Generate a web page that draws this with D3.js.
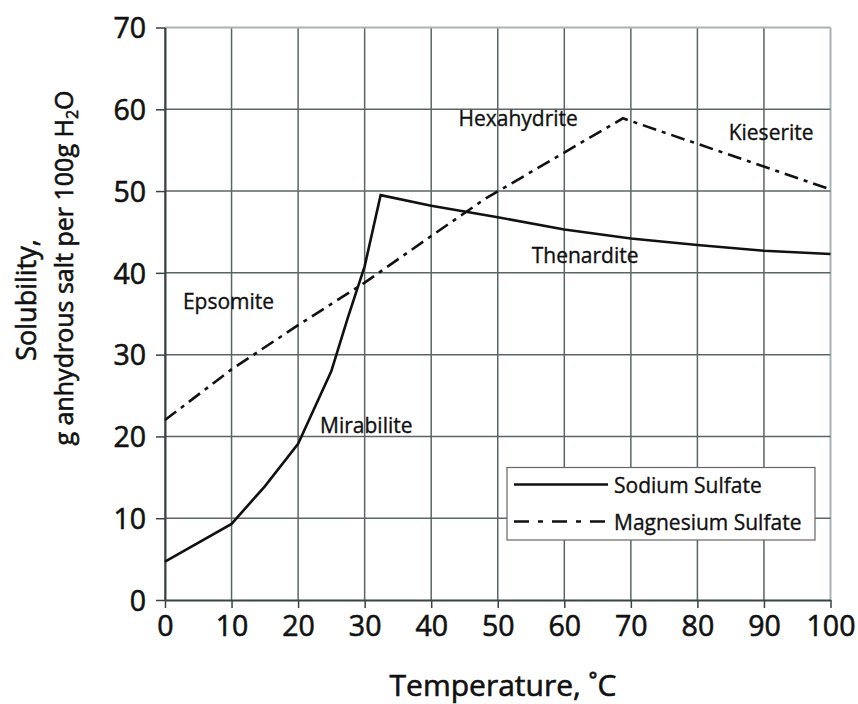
<!DOCTYPE html>
<head>
	<meta charset="utf-8">
	<script src="https://d3js.org/d3.v7.min.js"></script>
	<style>
		body { margin: 0; background: #fff; }
		text { font-family: "Open Sans", sans-serif; fill: #111; }
		.heavy { stroke: #111; stroke-width: 0.6px; }
		.med { stroke: #111; stroke-width: 0.35px; }
	</style>
</head>
<body>
	<svg id="chart" width="858" height="704"></svg>
	<script>

	// Data
	var tempNa = [0, 10, 15, 20, 25, 27.5, 30, 32.4, 40, 50, 60, 70, 80, 90, 100];
	var solNa  = [4.7, 9.3, 13.9, 19.1, 28, 34.6, 40.8, 49.5, 48.2, 46.8, 45.3, 44.2, 43.4, 42.7, 42.3];
	var tempMg = [0, 10, 20, 30, 40, 48, 68.8, 100];
	var solMg  = [22, 28.2, 33.6, 38.8, 44.5, 49, 58.9, 50.2];

	var xTicks = [0, 10, 20, 30, 40, 50, 60, 70, 80, 90, 100];
	var yTicks = [0, 10, 20, 30, 40, 50, 60, 70];

	var phases = [
		{name: "Epsomite",    t: 2.7,  s: 35.6},
		{name: "Mirabilite",  t: 23.3, s: 20.4},
		{name: "Hexahydrite", t: 44.1, s: 57.9},
		{name: "Kieserite",   t: 84.7, s: 56.3},
		{name: "Thenardite",  t: 55.1, s: 41.2}
	];

	var svg = d3.select("#chart");

	var x = d3.scaleLinear().domain([0, 100]).range([165, 830.5]);
	var y = d3.scaleLinear().domain([0, 70]).range([600, 27.5]);

	// grid
	var grid = svg.append("g");
	grid.selectAll(".vg").data(xTicks).enter().append("line")
		.attr("x1", d => x(d)).attr("x2", d => x(d))
		.attr("y1", y(70)).attr("y2", y(0))
		.attr("stroke", d => d == 100 ? "#a7b3b3" : "#5c6565")
		.attr("stroke-width", d => d == 100 ? 2 : 1.5);
	grid.selectAll(".hg").data(yTicks.filter(d => d > 0)).enter().append("line")
		.attr("x1", x(0)).attr("x2", x(100))
		.attr("y1", d => y(d)).attr("y2", d => y(d))
		.attr("stroke", d => d == 70 ? "#a7b3b3" : "#5c6565")
		.attr("stroke-width", d => d == 70 ? 2 : 1.5);

	// axes
	var xAxis = svg.append("g")
		.attr("transform", "translate(0," + y(0) + ")")
		.call(d3.axisBottom(x).tickValues(xTicks).tickSize(8).tickSizeOuter(0).tickPadding(8));
	var yAxis = svg.append("g")
		.attr("transform", "translate(" + x(0) + ",0)")
		.call(d3.axisLeft(y).tickValues(yTicks).tickSize(9).tickSizeOuter(0).tickPadding(10));

	[xAxis, yAxis].forEach(function(a) {
		a.select(".domain").attr("stroke", "#3a4242").attr("stroke-width", 2);
		a.selectAll(".tick line").attr("stroke", "#3a4242").attr("stroke-width", 1.5);
		a.selectAll(".tick text")
			.attr("class", "heavy")
			.style("font-family", "'Open Sans', sans-serif")
			.style("font-size", "28.5px")
			.attr("fill", "#111");
	});
	yAxis.selectAll(".tick text").attr("dy", "0.36em");

	// series
	var line = d3.line().x(d => x(d[0])).y(d => y(d[1]));

	svg.append("path")
		.datum(tempNa.map((t, i) => [t, solNa[i]]))
		.attr("d", line)
		.attr("fill", "none")
		.attr("stroke", "#111")
		.attr("stroke-width", 2.6);

	svg.append("path")
		.datum(tempMg.map((t, i) => [t, solMg[i]]))
		.attr("d", line)
		.attr("fill", "none")
		.attr("stroke", "#111")
		.attr("stroke-width", 2.6)
		.attr("stroke-dasharray", "14,6,4,6");

	// phase labels
	svg.selectAll(".phase").data(phases).enter().append("text")
		.attr("class", "med")
		.attr("x", d => x(d.t))
		.attr("y", d => y(d.s))
		.style("font-size", "21px")
		.text(d => d.name);

	// legend
	var lg = svg.append("g");
	lg.append("rect")
		.attr("x", 507).attr("y", 467.5).attr("width", 308).attr("height", 72.5)
		.attr("fill", "#fff").attr("stroke", "#666").attr("stroke-width", 1.2);
	var items = [
		{name: "Sodium Sulfate", dash: null},
		{name: "Magnesium Sulfate", dash: "15,9,5,9"}
	];
	items.forEach(function(it, i) {
		var yy = 484.5 + i * 37;
		lg.append("line")
			.attr("x1", 514).attr("x2", 608)
			.attr("y1", yy).attr("y2", yy)
			.attr("stroke", "#111").attr("stroke-width", 2.6)
			.attr("stroke-dasharray", it.dash);
		lg.append("text")
			.attr("class", "med")
			.attr("x", 614).attr("y", yy + 8)
			.style("font-size", "21px")
			.text(it.name);
	});

	// axis titles
	svg.append("text")
		.attr("class", "heavy")
		.attr("x", 503).attr("y", 696)
		.attr("text-anchor", "middle")
		.style("font-size", "30px")
		.text("Temperature, ˚C");

	svg.append("text")
		.attr("class", "heavy")
		.attr("transform", "translate(36,300) rotate(-90)")
		.attr("text-anchor", "middle")
		.style("font-size", "27px")
		.text("Solubility,");

	var yt2 = svg.append("text")
		.attr("class", "heavy")
		.attr("transform", "translate(73,268) rotate(-90)")
		.attr("text-anchor", "middle")
		.style("font-size", "25px");
	yt2.append("tspan").text("g anhydrous salt per 100g H");
	yt2.append("tspan").attr("dy", 5).style("font-size", "16px").text("2");
	yt2.append("tspan").attr("dy", -5).text("O");

</script>
</body>
</html>
